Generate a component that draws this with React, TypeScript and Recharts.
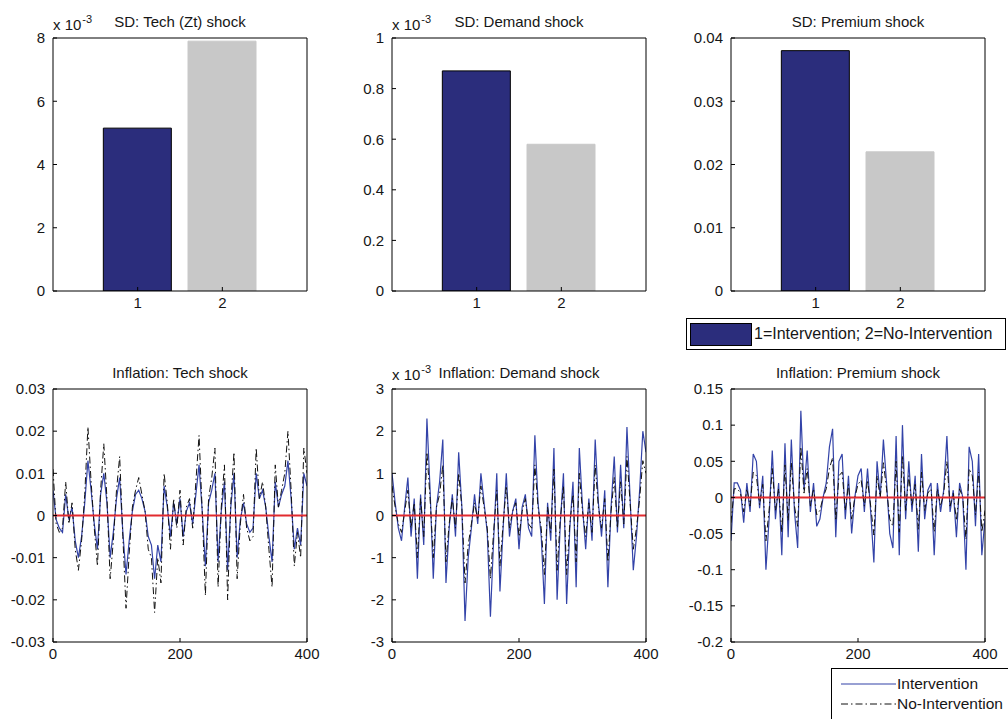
import React from 'react'
import {
  BarChart, Bar, Cell, LineChart, Line, XAxis, YAxis, ReferenceLine,
} from 'recharts'

// ── Data ──────────────────────────────────────────────────────────────────

const BAR_CATEGORIES = [1, 2]
const LEGEND_BARS = '1=Intervention; 2=No-Intervention'
const SD_TECH = [5.15, 7.9] // x 10^-3
const SD_DEMAND = [0.87, 0.58] // x 10^-3
const SD_PREMIUM = [0.038, 0.022]

// time index of the simulated paths (every 5th period)
const PERIODS = Array.from({ length: 81 }, (_, i) => i * 5)

const TECH_INT = [
  0.006, -0.001, -0.003, -0.004, 0.005, -0.001, 0.002, -0.006, -0.010, -0.005,
  0.003, 0.013, 0.006, -0.002, -0.008, 0.005, 0.010, 0.003, -0.010, -0.004,
  0.004, 0.009, -0.004, -0.014, -0.006, 0.001, 0.005, 0.006, 0.004, 0.001,
  -0.005, -0.007, -0.015, -0.007, -0.011, 0.007, 0.002, -0.005, 0.003, -0.002,
  0.004, -0.005, 0.001, 0.003, -0.002, 0.005, 0.012, 0.001, -0.012, 0.003,
  0.006, 0.010, -0.011, 0.001, 0.008, -0.013, 0.002, 0.010, -0.010, -0.001,
  0.003, -0.002, -0.004, -0.003, 0.010, 0.004, 0.006, 0.002, -0.005, -0.011,
  0.008, 0.002, 0.005, 0.007, 0.013, 0.004, -0.008, -0.003, -0.007, 0.010,
  0.007,
]
const TECH_NOINT = [
  0.011, -0.002, -0.004, -0.003, 0.008, -0.002, 0.003, -0.008, -0.013, -0.006,
  0.005, 0.021, 0.008, -0.003, -0.012, 0.006, 0.017, 0.004, -0.015, -0.006,
  0.006, 0.014, -0.005, -0.022, -0.009, 0.002, 0.006, 0.009, 0.005, 0.001,
  -0.008, -0.010, -0.023, -0.010, -0.016, 0.010, 0.003, -0.008, 0.004, -0.003,
  0.006, -0.007, 0.002, 0.004, -0.003, 0.008, 0.019, 0.001, -0.019, 0.004,
  0.009, 0.016, -0.017, 0.002, 0.012, -0.020, 0.003, 0.015, -0.015, -0.002,
  0.005, -0.003, -0.006, -0.005, 0.016, 0.004, 0.008, 0.002, -0.008, -0.017,
  0.012, 0.002, 0.006, 0.010, 0.020, 0.006, -0.012, -0.004, -0.010, 0.016,
  0.010,
]

// x 10^-3
const DEMAND_INT = [
  1.0, 0.3, -0.3, -0.6, 0.2, 0.9, -0.5, 0.4, -1.5, 0.5,
  -0.7, 2.3, 0.6, -1.5, 0.2, 0.8, 1.8, -1.6, -0.3, 0.5,
  -0.5, 1.5, 0.2, -2.5, -1.0, -0.3, 0.5, -0.2, 1.0, 0.3,
  -0.4, -2.4, -0.6, 1.0, -1.8, -0.3, 1.0, -0.5, 0.1, 0.4,
  -0.8, 0.2, 0.5, -0.3, -0.5, 1.9, 0.3, -0.5, -2.1, 0.3,
  -0.6, 1.6, -2.0, -0.2, 1.0, -2.1, -0.3, 0.8, -1.7, 1.6,
  0.2, -0.8, 0.4, -0.6, 1.8, 0.3, -0.5, 0.6, -1.7, 0.2,
  1.4, -0.4, 1.2, -0.3, 2.1, 0.4, -1.3, -0.5, 0.6, 2.0,
  1.5,
]
const DEMAND_NOINT = [
  0.7, 0.2, -0.2, -0.4, 0.1, 0.6, -0.3, 0.3, -1.0, 0.4,
  -0.5, 1.5, 0.4, -1.0, 0.2, 0.5, 1.2, -1.1, -0.2, 0.4,
  -0.3, 1.0, 0.2, -1.6, -0.7, -0.2, 0.3, -0.1, 0.7, 0.2,
  -0.3, -1.5, -0.4, 0.6, -1.2, -0.2, 0.7, -0.3, 0.1, 0.3,
  -0.5, 0.1, 0.4, -0.2, -0.3, 1.2, 0.2, -0.3, -1.4, 0.2,
  -0.4, 1.1, -1.3, -0.1, 0.7, -1.4, -0.2, 0.5, -1.1, 1.0,
  0.1, -0.5, 0.3, -0.4, 1.2, 0.2, -0.3, 0.4, -1.1, 0.1,
  0.9, -0.3, 0.8, -0.2, 1.4, 0.3, -0.8, -0.3, 0.4, 1.3,
  1.0,
]

const PREMIUM_INT = [
  -0.06, 0.02, 0.02, 0.01, -0.035, 0.02, -0.02, 0.06, 0.05, -0.015,
  0.03, -0.1, -0.03, 0.065, -0.03, 0.02, -0.08, 0.075, -0.055, 0.08,
  -0.02, -0.07, 0.12, 0.01, 0.065, -0.02, 0.02, -0.04, -0.03, 0.0,
  0.02, 0.07, 0.095, -0.055, 0.05, 0.06, -0.03, 0.03, -0.05, 0.0,
  0.03, 0.04, -0.02, 0.04, -0.02, -0.09, 0.05, 0.0, 0.08, 0.02,
  -0.05, -0.07, 0.085, -0.08, 0.1, -0.03, 0.05, -0.02, 0.03, -0.075,
  0.06, -0.03, 0.01, 0.02, -0.08, 0.02, -0.02, 0.01, 0.085, -0.02,
  0.01, -0.055, 0.02, 0.0, -0.1, 0.07, 0.05, -0.04, 0.06, -0.08,
  -0.03,
]
const PREMIUM_NOINT = [
  -0.035, 0.012, 0.012, 0.006, -0.02, 0.012, -0.012, 0.035, 0.03, -0.01,
  0.018, -0.06, -0.018, 0.04, -0.018, 0.012, -0.048, 0.045, -0.032, 0.048,
  -0.012, -0.04, 0.07, 0.006, 0.04, -0.012, 0.012, -0.024, -0.018, 0.0,
  0.012, 0.04, 0.055, -0.032, 0.03, 0.035, -0.018, 0.018, -0.03, 0.0,
  0.018, 0.024, -0.012, 0.024, -0.012, -0.052, 0.03, 0.0, 0.048, 0.012,
  -0.03, -0.04, 0.05, -0.048, 0.058, -0.018, 0.03, -0.012, 0.018, -0.044,
  0.035, -0.018, 0.006, 0.012, -0.048, 0.012, -0.012, 0.006, 0.05, -0.012,
  0.006, -0.032, 0.012, 0.0, -0.058, 0.04, 0.03, -0.024, 0.035, -0.048,
  -0.018,
]

const X_TICKS_SERIES = [0, 200, 400]
const Y_TICKS_TECH_SD = [0, 2, 4, 6, 8]
const Y_TICKS_DEMAND_SD = [0, 0.2, 0.4, 0.6, 0.8, 1]
const Y_TICKS_PREMIUM_SD = [0, 0.01, 0.02, 0.03, 0.04]
const Y_TICKS_TECH = [-0.03, -0.02, -0.01, 0, 0.01, 0.02, 0.03]
const Y_TICKS_DEMAND = [-3, -2, -1, 0, 1, 2, 3]
const Y_TICKS_PREMIUM = [-0.2, -0.15, -0.1, -0.05, 0, 0.05, 0.1, 0.15]

// ── Styles ────────────────────────────────────────────────────────────────

const FONT = '"Liberation Sans", Arial, Helvetica, sans-serif'
const NAVY = '#2b2d7c'
const GRAY = '#c8c8c8'
const BLUE_LINE = '#3343a8'
const BLACK = '#111'
const RED = '#e22b2f'

const PLOT_W = 254
const PLOT_H = 253
const COLS = [53, 392, 731]
const ROWS = [38, 389]
const Y_W = 50
const X_H = 30
const PAD_T = 10
const PAD_R = 25

const TICK = { fontSize: 15, fill: '#161616', fontFamily: FONT }
const AXIS = { stroke: '#000' }

function frameStyle(left: number, top: number): React.CSSProperties {
  return { position: 'absolute', left: left - Y_W, top: top - PAD_T }
}

const CHART_W = PLOT_W + Y_W + PAD_R
const CHART_H = PLOT_H + PAD_T + X_H
const MARGIN = { top: PAD_T - 1, right: PAD_R - 1, bottom: 0, left: 0 }

// ── Panels ────────────────────────────────────────────────────────────────

function BoxAxes(props: { xDomain: number[]; xTicks: number[]; yDomain: number[]; yTicks: number[]; xKey: string }) {
  const { xDomain, xTicks, yDomain, yTicks, xKey } = props
  return [
    <XAxis key="xb" xAxisId="b" type="number" dataKey={xKey} domain={xDomain} ticks={xTicks}
      height={X_H} tickSize={-4} tickMargin={10} tick={TICK} axisLine={AXIS} tickLine={AXIS}
      interval={0} allowDataOverflow />,
    <XAxis key="xt" xAxisId="t" orientation="top" type="number" dataKey={xKey} domain={xDomain}
      ticks={xTicks} height={1} tickSize={-4} tick={false} axisLine={AXIS} tickLine={AXIS}
      interval={0} allowDataOverflow />,
    <YAxis key="yl" yAxisId="l" type="number" domain={yDomain} ticks={yTicks} width={Y_W}
      tickSize={-4} tickMargin={12} tick={TICK} axisLine={AXIS} tickLine={AXIS}
      interval={0} allowDataOverflow tickFormatter={(v) => String(v)} />,
    <YAxis key="yr" yAxisId="r" orientation="right" type="number" domain={yDomain} ticks={yTicks}
      width={1} tickSize={-4} tick={false} axisLine={AXIS} tickLine={AXIS} interval={0}
      allowDataOverflow />,
  ]
}

interface BarPanelProps {
  left: number
  top: number
  values: number[]
  yDomain: number[]
  yTicks: number[]
}

function BarPanel({ left, top, values, yDomain, yTicks }: BarPanelProps) {
  const data = BAR_CATEGORIES.map((c, i) => ({ cat: c, sd: values[i] }))
  return (
    <div style={frameStyle(left, top)}>
      <BarChart width={CHART_W} height={CHART_H} data={data} margin={MARGIN}>
        {BoxAxes({ xDomain: [0, 3], xTicks: BAR_CATEGORIES, yDomain, yTicks, xKey: 'cat' })}
        <Bar xAxisId="b" yAxisId="l" dataKey="sd" barSize={68} isAnimationActive={false}>
          {data.map((d, i) => (
            <Cell key={d.cat} fill={i === 0 ? NAVY : GRAY} stroke={i === 0 ? '#000' : GRAY} strokeWidth={1} />
          ))}
        </Bar>
      </BarChart>
    </div>
  )
}

interface SeriesPanelProps {
  left: number
  top: number
  intervention: number[]
  noIntervention: number[]
  yDomain: number[]
  yTicks: number[]
}

function SeriesPanel({ left, top, intervention, noIntervention, yDomain, yTicks }: SeriesPanelProps) {
  const data = PERIODS.map((t, i) => ({ t, int: intervention[i], noint: noIntervention[i] }))
  return (
    <div style={frameStyle(left, top)}>
      <LineChart width={CHART_W} height={CHART_H} data={data} margin={MARGIN}>
        {BoxAxes({ xDomain: [0, 400], xTicks: X_TICKS_SERIES, yDomain, yTicks, xKey: 't' })}
        <Line xAxisId="b" yAxisId="l" type="linear" dataKey="int" stroke={BLUE_LINE} strokeWidth={1.2}
          dot={false} isAnimationActive={false} />
        <Line xAxisId="b" yAxisId="l" type="linear" dataKey="noint" stroke={BLACK} strokeWidth={1}
          strokeDasharray="7 3 1.5 3" dot={false} isAnimationActive={false} />
        <ReferenceLine xAxisId="b" yAxisId="l" y={0} stroke={RED} strokeWidth={2} />
      </LineChart>
    </div>
  )
}

// ── Text overlays ─────────────────────────────────────────────────────────

function Title({ col, y, text }: { col: number; y: number; text: string }) {
  return (
    <div style={{
      position: 'absolute', left: col + PLOT_W / 2, top: y, transform: 'translate(-50%, -50%)',
      fontSize: 15, lineHeight: 1, whiteSpace: 'nowrap', color: '#161616',
    }}>{text}</div>
  )
}

function Exponent({ x, y }: { x: number; y: number }) {
  return (
    <div style={{ position: 'absolute', left: x, top: y, fontSize: 15, lineHeight: 1, whiteSpace: 'nowrap', color: '#161616' }}>
      x 10<span style={{ fontSize: 11, position: 'relative', top: -7, marginLeft: 1 }}>-3</span>
    </div>
  )
}

export default function App() {
  return (
    <div style={{ position: 'relative', width: 1008, height: 719, overflow: 'hidden', background: '#fff', fontFamily: FONT }}>
      <style>{'body{margin:0}'}</style>

      <BarPanel left={COLS[0]} top={ROWS[0]} values={SD_TECH} yDomain={[0, 8]} yTicks={Y_TICKS_TECH_SD} />
      <BarPanel left={COLS[1]} top={ROWS[0]} values={SD_DEMAND} yDomain={[0, 1]} yTicks={Y_TICKS_DEMAND_SD} />
      <BarPanel left={COLS[2]} top={ROWS[0]} values={SD_PREMIUM} yDomain={[0, 0.04]} yTicks={Y_TICKS_PREMIUM_SD} />

      <SeriesPanel left={COLS[0]} top={ROWS[1]} intervention={TECH_INT} noIntervention={TECH_NOINT}
        yDomain={[-0.03, 0.03]} yTicks={Y_TICKS_TECH} />
      <SeriesPanel left={COLS[1]} top={ROWS[1]} intervention={DEMAND_INT} noIntervention={DEMAND_NOINT}
        yDomain={[-3, 3]} yTicks={Y_TICKS_DEMAND} />
      <SeriesPanel left={COLS[2]} top={ROWS[1]} intervention={PREMIUM_INT} noIntervention={PREMIUM_NOINT}
        yDomain={[-0.2, 0.15]} yTicks={Y_TICKS_PREMIUM} />

      <Title col={COLS[0]} y={21} text="SD: Tech (Zt) shock" />
      <Title col={COLS[1]} y={21} text="SD: Demand shock" />
      <Title col={COLS[2]} y={21} text="SD: Premium shock" />
      <Title col={COLS[0]} y={372} text="Inflation: Tech shock" />
      <Title col={COLS[1]} y={372} text="Inflation: Demand shock" />
      <Title col={COLS[2]} y={372} text="Inflation: Premium shock" />

      <Exponent x={COLS[0]} y={17} />
      <Exponent x={COLS[1]} y={17} />
      <Exponent x={COLS[1]} y={367} />

      {/* bar legend */}
      <div style={{
        position: 'absolute', left: 686, top: 318, width: 318, height: 30, border: '1px solid #000',
        background: '#fff', display: 'flex', alignItems: 'center', fontSize: 16, whiteSpace: 'nowrap', color: '#161616',
      }}>
        <div style={{ width: 60, height: 21, background: NAVY, border: '1px solid #000', marginLeft: 3, marginRight: 2 }} />
        {LEGEND_BARS}
      </div>

      {/* line legend */}
      <div style={{
        position: 'absolute', left: 831, top: 668, width: 190, height: 60, border: '1px solid #000',
        background: '#fff', fontSize: 15.5, whiteSpace: 'nowrap', color: '#161616',
      }}>
        <svg width={60} height={50} style={{ position: 'absolute', left: 8, top: 0 }}>
          <line x1={1} y1={15} x2={56} y2={15} stroke={BLUE_LINE} strokeWidth={1.2} />
          <line x1={1} y1={35} x2={56} y2={35} stroke={BLACK} strokeWidth={1} strokeDasharray="7 3 1.5 3" />
        </svg>
        <div style={{ position: 'absolute', left: 65, top: 7, lineHeight: 1 }}>Intervention</div>
        <div style={{ position: 'absolute', left: 65, top: 27, lineHeight: 1 }}>No-Intervention</div>
      </div>
    </div>
  )
}
